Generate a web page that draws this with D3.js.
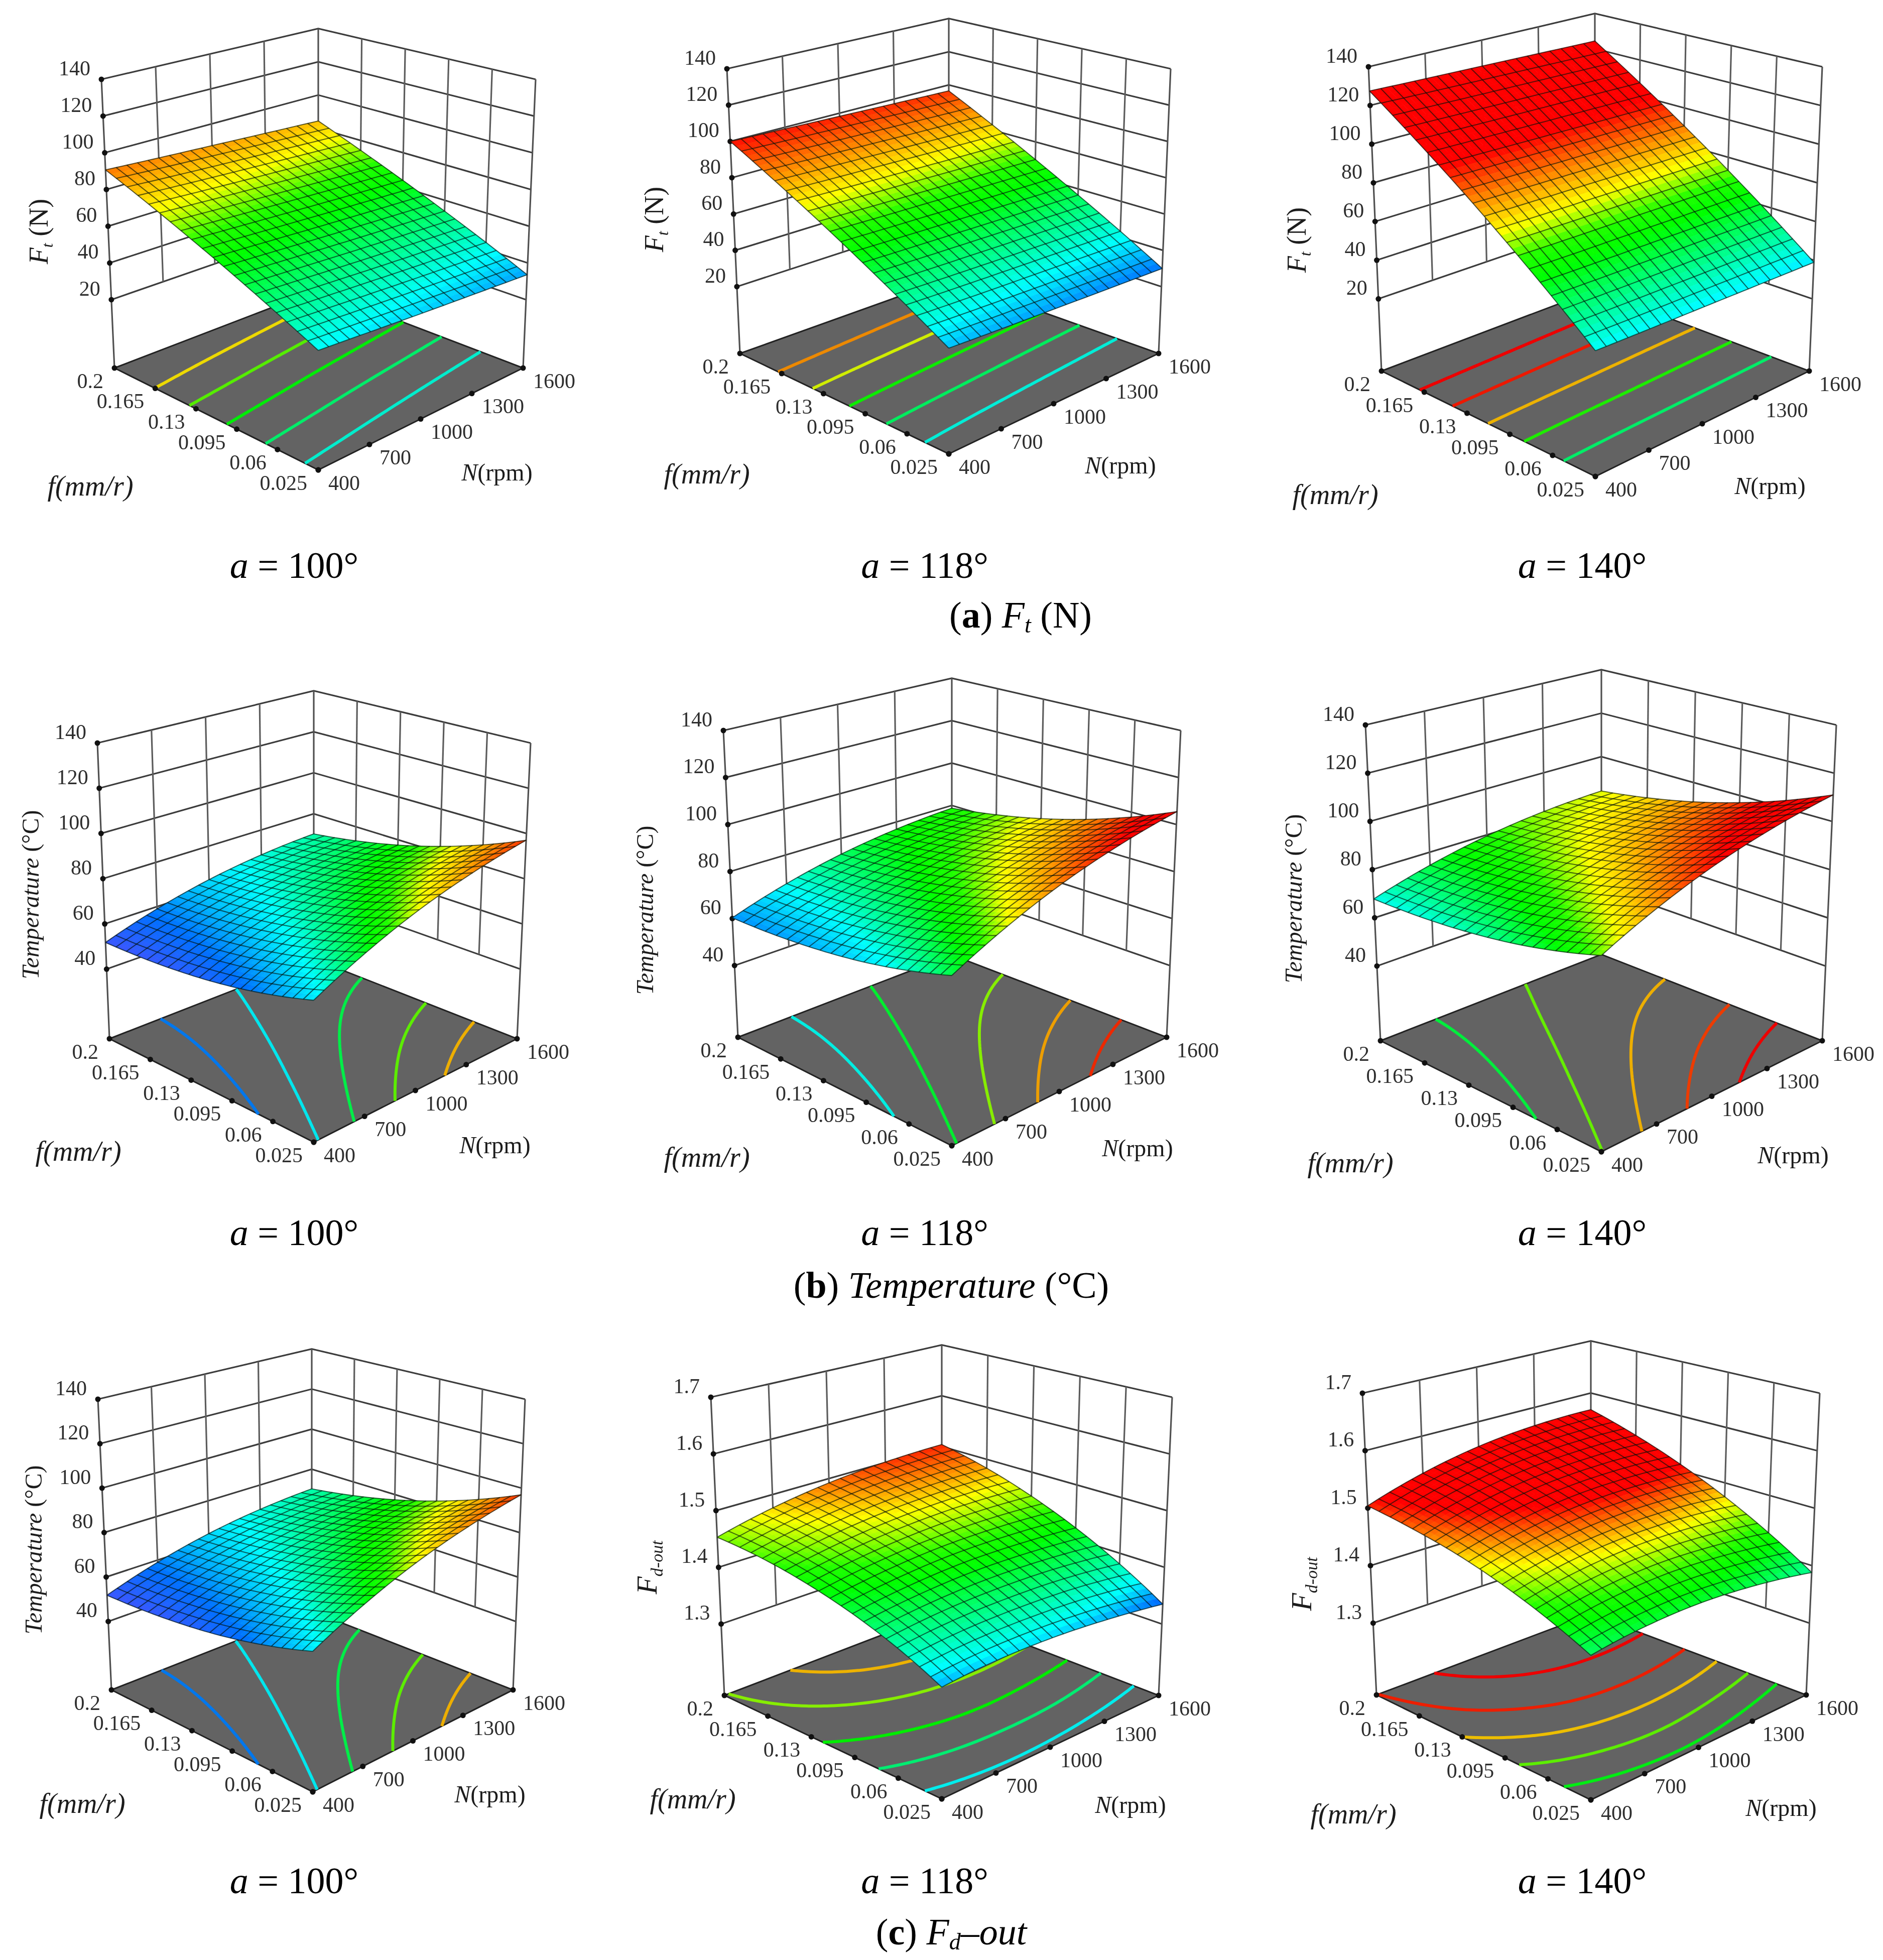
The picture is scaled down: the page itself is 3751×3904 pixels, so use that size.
<!DOCTYPE html>
<html>
<head>
<meta charset="utf-8">
<script src="https://cdn.jsdelivr.net/npm/d3@7"></script>
<style>
    body { margin: 0; background: #fff; }
    svg { filter: blur(0.7px); }
    text { font-family: "Liberation Serif", serif; fill: #1c1c1c; }
    .tick-label { font-size: 42px; fill: #2e2e2e; }
    .caption { font-size: 74px; fill: #000; text-anchor: middle; }
</style>
</head>
<body>
<div id="chart"></div>
<script>
// Define data (values at the axis tick crossings)
// ============================================================================
const N_TICKS = [400, 700, 1000, 1300, 1600];
const F_TICKS = ["0.2", "0.165", "0.13", "0.095", "0.06", "0.025"];
const FT_TICKS = ["20", "40", "60", "80", "100", "120", "140"];
const TEMP_TICKS = ["40", "60", "80", "100", "120", "140"];
const FD_TICKS = ["1.3", "1.4", "1.5", "1.6", "1.7"];

// one row per f tick, one column per N tick
const ft100 = [
    [90.7, 89.1, 87.6, 86.0, 84.4],
    [80.8, 79.1, 77.5, 75.9, 74.2],
    [70.8, 69.2, 67.5, 65.8, 64.1],
    [60.9, 59.2, 57.4, 55.7, 53.9],
    [50.9, 49.2, 47.4, 45.6, 43.8],
    [41.0, 39.2, 37.3, 35.5, 33.6]];
const ft118 = [
    [100.0, 99.1, 98.2, 97.3, 96.4],
    [87.2, 86.2, 85.2, 84.1, 83.1],
    [74.4, 73.2, 72.1, 71.0, 69.8],
    [61.5, 60.3, 59.1, 57.8, 56.5],
    [48.7, 47.3, 46.0, 44.7, 43.3],
    [35.9, 34.4, 33.0, 31.5, 30.0]];
const ft140 = [
    [127.5, 126.7, 126.0, 125.2, 124.4],
    [110.2, 109.5, 108.8, 108.1, 107.3],
    [93.0, 92.3, 91.6, 90.9, 90.2],
    [75.7, 75.0, 74.5, 73.8, 73.1],
    [58.5, 57.8, 57.3, 56.7, 56.0],
    [41.2, 40.6, 40.1, 39.5, 38.9]];
const temp100 = [
    [51.8, 59.0, 64.5, 68.2, 70.2],
    [52.3, 60.1, 66.3, 70.6, 73.3],
    [53.9, 62.4, 69.2, 74.2, 77.5],
    [56.6, 65.8, 73.2, 78.9, 82.9],
    [60.5, 70.3, 78.4, 84.8, 89.4],
    [65.5, 76.0, 84.8, 91.7, 97.0]];
const temp118 = [
    [60.3, 67.5, 73.0, 76.7, 78.7],
    [60.8, 68.6, 74.8, 79.1, 81.8],
    [62.4, 70.9, 77.7, 82.7, 86.0],
    [65.1, 74.3, 81.7, 87.4, 91.4],
    [69.0, 78.8, 86.9, 93.3, 97.9],
    [74.0, 84.5, 93.3, 100.2, 105.5]];
const temp140 = [
    [67.8, 74.5, 79.5, 82.7, 84.2],
    [68.3, 75.6, 81.3, 85.1, 87.3],
    [69.9, 77.9, 84.2, 88.7, 91.5],
    [72.6, 81.3, 88.2, 93.4, 96.9],
    [76.5, 85.8, 93.4, 99.3, 103.4],
    [81.5, 91.5, 99.8, 106.2, 111.0]];
const fd118 = [
    [1.453, 1.476, 1.492, 1.501, 1.504],
    [1.445, 1.464, 1.477, 1.483, 1.483],
    [1.430, 1.446, 1.456, 1.459, 1.455],
    [1.409, 1.422, 1.429, 1.428, 1.421],
    [1.382, 1.392, 1.395, 1.392, 1.381],
    [1.348, 1.355, 1.355, 1.348, 1.335]];
const fd140 = [
    [1.504, 1.534, 1.555, 1.566, 1.568],
    [1.493, 1.520, 1.537, 1.544, 1.542],
    [1.478, 1.500, 1.514, 1.517, 1.511],
    [1.457, 1.476, 1.485, 1.485, 1.475],
    [1.431, 1.446, 1.452, 1.447, 1.434],
    [1.400, 1.411, 1.413, 1.405, 1.388]];

// floor contour levels
const ftLevels100 = [80.9, 72.4, 63.3, 53.8, 44.2];
const ftLevels118 = [88.3, 77.7, 66.4, 55, 43.2];
const ftLevels140 = [112, 98.8, 84.5, 69.9, 54];
const tempLevels100 = [59, 66.5, 74, 81.5, 89];
const tempLevels118 = [67.5, 75, 82.5, 90, 97.5];
const tempLevels140 = [74.5, 81.7, 89, 96.3, 103.2];
const fdLevels118 = [1.48, 1.455, 1.425, 1.395, 1.362];
const fdLevels140 = [1.536, 1.505, 1.478, 1.449, 1.42];

// Define colours
// ============================================================================
const rainbow = ["#0000ff", "#00ffff", "#00ff00", "#20ff00", "#ffff00", "#ff0000"];
const ftColor = d3.scaleLinear().domain([21, 41, 64, 70, 79, 101]).range(rainbow).clamp(true);
const tempColor = d3.scaleLinear()
    .domain([46, 58, 67, 77, 80, 85, 100])
    .range(["#7040ff", "#0070ff", "#00ffff", "#00ff00", "#20ff00", "#ffff00", "#ff0000"])
    .clamp(true);
const fdColor = d3.scaleLinear()
    .domain([1.32, 1.362, 1.425, 1.44, 1.47, 1.51])
    .range(rainbow)
    .clamp(true);

// Define layout (full-size pixels)
// ============================================================================
const width = 3751, height = 3904, meshCells = 20, cellSteps = 2;

const panels = [
    {table: ft100, levels: ftLevels100, color: ftColor, ticks: FT_TICKS, zFloor: -17.2, zTop: 140, title: "ft",
        TL: [202, 158], TB: [634, 57], TR: [1067, 158], L: [228, 733], F: [634, 936], R: [1042, 733], By: 577,
        zPos: [76, 461], fPos: [180, 967], nPos: [990, 940]},
    {table: ft118, levels: ftLevels118, color: ftColor, ticks: FT_TICKS, zFloor: -16.8, zTop: 140, title: "ft",
        TL: [1448, 137], TB: [1890, 37], TR: [2332, 137], L: [1474, 704], F: [1890, 904], R: [2308, 704], By: 555,
        zPos: [1302, 437], fPos: [1408, 943], nPos: [2232, 926]},
    {table: ft140, levels: ftLevels140, color: ftColor, ticks: FT_TICKS, zFloor: -17.3, zTop: 140, title: "ft",
        TL: [2726, 133], TB: [3177, 27], TR: [3630, 133], L: [2752, 739], F: [3178, 949], R: [3604, 739], By: 578,
        zPos: [2582, 478], fPos: [2660, 984], nPos: [3526, 967]},
    {table: temp100, levels: tempLevels100, color: tempColor, ticks: TEMP_TICKS, zFloor: 9.2, zTop: 140, title: "temp",
        TL: [194, 1480], TB: [625, 1376], TR: [1057, 1480], L: [218, 2069], F: [625, 2275], R: [1030, 2069], By: 1910,
        zPos: [60, 1782], fPos: [156, 2292], nPos: [986, 2280]},
    {table: temp118, levels: tempLevels118, color: tempColor, ticks: TEMP_TICKS, zFloor: 9.5, zTop: 140, title: "temp",
        TL: [1441, 1455], TB: [1896, 1351], TR: [2352, 1455], L: [1470, 2066], F: [1896, 2282], R: [2324, 2066], By: 1902,
        zPos: [1284, 1813], fPos: [1408, 2304], nPos: [2266, 2286]},
    {table: temp140, levels: tempLevels140, color: tempColor, ticks: TEMP_TICKS, zFloor: 9, zTop: 140, title: "temp",
        TL: [2720, 1444], TB: [3190, 1334], TR: [3658, 1444], L: [2750, 2073], F: [3190, 2294], R: [3630, 2073], By: 1901,
        zPos: [2576, 1790], fPos: [2690, 2315], nPos: [3572, 2300]},
    {table: temp100, levels: tempLevels100, color: tempColor, ticks: TEMP_TICKS, zFloor: 9.2, zTop: 140, title: "temp",
        TL: [195, 2787], TB: [621, 2687], TR: [1046, 2787], L: [222, 3366], F: [623, 3569], R: [1022, 3366], By: 3209,
        zPos: [66, 3087], fPos: [164, 3591], nPos: [976, 3573]},
    {table: fd118, levels: fdLevels118, color: fdColor, ticks: FD_TICKS, zFloor: 1.174, zTop: 1.7, title: "fd",
        TL: [1416, 2783], TB: [1876, 2679], TR: [2335, 2783], L: [1443, 3377], F: [1876, 3583], R: [2308, 3377], By: 3211,
        zPos: [1288, 3122], fPos: [1380, 3582], nPos: [2252, 3594]},
    {table: fd140, levels: fdLevels140, color: fdColor, ticks: FD_TICKS, zFloor: 1.175, zTop: 1.7, title: "fd",
        TL: [2714, 2775], TB: [3169, 2671], TR: [3625, 2775], L: [2742, 3376], F: [3169, 3585], R: [3598, 3376], By: 3215,
        zPos: [2592, 3155], fPos: [2696, 3612], nPos: [3548, 3600]}
];

const angleCaptions = [
    {x: 586, y: 1151, angle: "100°"}, {x: 1842, y: 1151, angle: "118°"}, {x: 3152, y: 1151, angle: "140°"},
    {x: 586, y: 2480, angle: "100°"}, {x: 1842, y: 2480, angle: "118°"}, {x: 3152, y: 2480, angle: "140°"},
    {x: 586, y: 3771, angle: "100°"}, {x: 1842, y: 3771, angle: "118°"}, {x: 3152, y: 3771, angle: "140°"}
];

// Define Functions
// ============================================================================
const lerp = (a, b, t) => [a[0] + (b[0] - a[0]) * t, a[1] + (b[1] - a[1]) * t];

// Maps (u along N, v along f, w up z), all 0..1, to the page
function makeProjection(p) {
    const B = [p.TB[0], p.By];
    const hL = p.L[1] - p.TL[1], hB = B[1] - p.TB[1];
    const hF = 1 / (2 / hL - 1 / hB);
    const TF = [p.F[0], p.F[1] - hF];
    return (u, v, w) => {
        const floor = lerp(lerp(p.L, B, u), lerp(p.F, p.R, u), v);
        const top = lerp(lerp(p.TL, p.TB, u), lerp(TF, p.TR, u), v);
        return lerp(floor, top, w);
    };
}

// Smooth read between neighbouring tick values
function cubic(values, t) {
    const n = values.length;
    const i = Math.min(Math.floor(t * (n - 1)), n - 2);
    const s = t * (n - 1) - i;
    const p0 = i > 0 ? values[i - 1] : 3 * values[0] - 3 * values[1] + values[2];
    const p1 = values[i], p2 = values[i + 1];
    const p3 = i < n - 2 ? values[i + 2] : 3 * values[n - 1] - 3 * values[n - 2] + values[n - 3];
    return 0.5 * (2 * p1 + (p2 - p0) * s + (2 * p0 - 5 * p1 + 4 * p2 - p3) * s * s
        + (3 * p1 - p0 - 3 * p2 + p3) * s * s * s);
}

const surfaceAt = (table, u, v) => cubic(table.map(row => cubic(row, u)), v);

// Cuts the closed rings of d3.contours into open lines, without the grid border
function contourLines(rings, size) {
    const onBorder = q => q[0] === 0 || q[1] === 0 || q[0] === size || q[1] === size;
    let lines = [];
    rings.forEach(ring => {
        const pts = ring.slice(0, -1);
        const start = pts.findIndex(onBorder);
        if (start < 0) { lines.push(ring); return; }
        let run = [];
        d3.range(pts.length + 1).forEach(k => {
            const q = pts[(start + k) % pts.length];
            if (onBorder(q)) {
                if (run.length > 1) lines.push(run);
                run = [];
            } else {
                run.push(q);
            }
        });
    });
    return lines;
}

function addTitle(g, p) {
    if (p.title === "ft") {
        const t = g.append("text").attr("text-anchor", "middle")
            .attr("transform", `translate(${p.zPos[0]},${p.zPos[1]}) rotate(-90)`)
            .attr("dy", "0.35em").attr("font-size", 54);
        t.append("tspan").attr("font-style", "italic").text("F");
        t.append("tspan").attr("font-style", "italic").attr("font-size", 32).attr("dy", 10).text("t");
        t.append("tspan").attr("dy", -10).text(" (N)");
    } else if (p.title === "temp") {
        g.append("text").attr("text-anchor", "middle")
            .attr("transform", `translate(${p.zPos[0]},${p.zPos[1]}) rotate(-90)`)
            .attr("dy", "0.35em").attr("font-size", 48)
            .html('<tspan font-style="italic">Temperature</tspan> (°C)');
    } else {
        const t = g.append("text").attr("text-anchor", "middle")
            .attr("transform", `translate(${p.zPos[0]},${p.zPos[1]}) rotate(-90)`)
            .attr("dy", "0.35em").attr("font-size", 58).attr("font-style", "italic");
        t.append("tspan").text("F");
        t.append("tspan").attr("font-size", 34).attr("dy", 12).text("d-out");
    }
    g.append("text").attr("x", p.fPos[0]).attr("y", p.fPos[1]).attr("dy", "0.35em")
        .attr("text-anchor", "middle").attr("font-size", 56).attr("font-style", "italic")
        .text("f(mm/r)");
    g.append("text").attr("x", p.nPos[0]).attr("y", p.nPos[1]).attr("dy", "0.35em")
        .attr("text-anchor", "middle").attr("font-size", 48)
        .html('<tspan font-style="italic">N</tspan>(rpm)');
}

// Plot
// ============================================================================
const svg = d3.select("#chart").append("svg")
    .attr("width", width).attr("height", height);

const line = d3.line();
const uScale = d3.scaleLinear().domain(d3.extent(N_TICKS)).range([0, 1]);
const vScale = d3.scaleLinear().domain([+F_TICKS[0], +F_TICKS[F_TICKS.length - 1]]).range([0, 1]);

panels.forEach(p => {
    const g = svg.append("g");
    const project = makeProjection(p);
    const wScale = d3.scaleLinear().domain([p.zFloor, p.zTop]).range([0, 1]);
    const zTicks = p.ticks.map(Number);
    const zLow = wScale(zTicks[0]);

    // Back walls
    zTicks.forEach(z => {
        const w = wScale(z);
        g.append("path").attr("d", line([project(0, 0, w), project(1, 0, w), project(1, 1, w)]))
            .attr("fill", "none").attr("stroke", "#3c3c3c").attr("stroke-width", 3.2);
    });
    N_TICKS.slice(1, -1).forEach(n => {
        g.append("path").attr("d", line([project(uScale(n), 0, zLow), project(uScale(n), 0, 1)]))
            .attr("fill", "none").attr("stroke", "#5c5c5c").attr("stroke-width", 3.2);
    });
    F_TICKS.slice(1, -1).forEach(f => {
        g.append("path").attr("d", line([project(1, vScale(+f), zLow), project(1, vScale(+f), 1)]))
            .attr("fill", "none").attr("stroke", "#5c5c5c").attr("stroke-width", 3.2);
    });
    [[0, 0], [1, 0], [1, 1]].forEach(c => {
        g.append("path").attr("d", line([project(c[0], c[1], 0), project(c[0], c[1], 1)]))
            .attr("fill", "none").attr("stroke", "#505050").attr("stroke-width", 3.2);
    });

    // Floor
    g.append("path")
        .attr("d", line([project(0, 0, 0), project(1, 0, 0), project(1, 1, 0), project(0, 1, 0)]) + "Z")
        .attr("fill", "#636363").attr("stroke", "#222").attr("stroke-width", 3);

    // Floor contours
    const gridSize = 61;
    const gridValues = [];
    d3.range(gridSize).forEach(j => {
        d3.range(gridSize).forEach(i => {
            gridValues.push(surfaceAt(p.table, i / (gridSize - 1), j / (gridSize - 1)));
        });
    });
    const contours = d3.contours().size([gridSize, gridSize]);
    p.levels.forEach(level => {
        const shape = contours.contour(gridValues, level);
        shape.coordinates.forEach(poly => {
            contourLines(poly, gridSize).forEach(run => {
                const pts = run.map(q => project((q[0] - 0.5) / (gridSize - 1), (q[1] - 0.5) / (gridSize - 1), 0));
                g.append("path").attr("d", line(pts))
                    .attr("fill", "none")
                    .attr("stroke", d3.color(p.color(level)).darker(0.2))
                    .attr("stroke-width", 6);
            });
        });
    });

    // Tick dots and labels
    const dots = [];
    zTicks.forEach((z, i) => {
        const q = project(0, 0, wScale(z));
        dots.push(q);
        g.append("text").attr("class", "tick-label").attr("x", q[0] - 22).attr("y", q[1] - 23)
            .attr("dy", "0.35em").attr("text-anchor", "end").text(p.ticks[i]);
    });
    F_TICKS.forEach(f => {
        const q = project(0, vScale(+f), 0);
        dots.push(q);
        g.append("text").attr("class", "tick-label").attr("x", q[0] - 22).attr("y", q[1] + 25)
            .attr("dy", "0.35em").attr("text-anchor", "end").text(f);
    });
    N_TICKS.forEach(n => {
        const q = project(uScale(n), 1, 0);
        dots.push(q);
        g.append("text").attr("class", "tick-label").attr("x", q[0] + 20).attr("y", q[1] + 25)
            .attr("dy", "0.35em").text(n);
    });
    g.selectAll("circle").data(dots).join("circle")
        .attr("cx", d => d[0]).attr("cy", d => d[1]).attr("r", 5.5).attr("fill", "#111");

    // Surface, smooth colour patches first
    const point = (u, v) => project(u, v, wScale(surfaceAt(p.table, u, v)));
    const steps = meshCells * cellSteps;
    const patches = g.append("g");
    d3.range(steps).forEach(j => {
        d3.range(steps).forEach(i => {
            const u0 = i / steps, u1 = (i + 1) / steps, v0 = j / steps, v1 = (j + 1) / steps;
            const fill = p.color(surfaceAt(p.table, (u0 + u1) / 2, (v0 + v1) / 2));
            patches.append("path")
                .attr("d", line([point(u0, v0), point(u1, v0), point(u1, v1), point(u0, v1)]) + "Z")
                .attr("fill", fill).attr("stroke", fill).attr("stroke-width", 0.8);
        });
    });

    // Mesh lines on top
    const tt = d3.range(steps + 1).map(k => k / steps);
    d3.range(meshCells + 1).forEach(k => {
        const a = k / meshCells;
        g.append("path").attr("d", line(tt.map(t => point(a, t))))
            .attr("fill", "none").attr("stroke", "#001008").attr("stroke-opacity", 0.62).attr("stroke-width", 2.1);
        g.append("path").attr("d", line(tt.map(t => point(t, a))))
            .attr("fill", "none").attr("stroke", "#001008").attr("stroke-opacity", 0.62).attr("stroke-width", 2.1);
    });

    addTitle(g, p);
});

// Captions
angleCaptions.forEach(c => {
    svg.append("text").attr("class", "caption").attr("x", c.x).attr("y", c.y)
        .html(`<tspan font-style="italic">a</tspan> = ${c.angle}`);
});

const figA = svg.append("text").attr("class", "caption").attr("x", 2033).attr("y", 1250);
figA.html('(<tspan font-weight="bold">a</tspan>) <tspan font-style="italic">F</tspan><tspan font-style="italic" font-size="46" dy="10">t</tspan><tspan dy="-10"> (N)</tspan>');
const figB = svg.append("text").attr("class", "caption").attr("x", 1895).attr("y", 2585);
figB.html('(<tspan font-weight="bold">b</tspan>) <tspan font-style="italic">Temperature</tspan> (°C)');
const figC = svg.append("text").attr("class", "caption").attr("x", 1895).attr("y", 3873);
figC.html('(<tspan font-weight="bold">c</tspan>) <tspan font-style="italic">F</tspan><tspan font-style="italic" font-size="46" dy="10">d</tspan><tspan font-style="italic" dy="-10">–out</tspan>');
</script>
</body>
</html>
